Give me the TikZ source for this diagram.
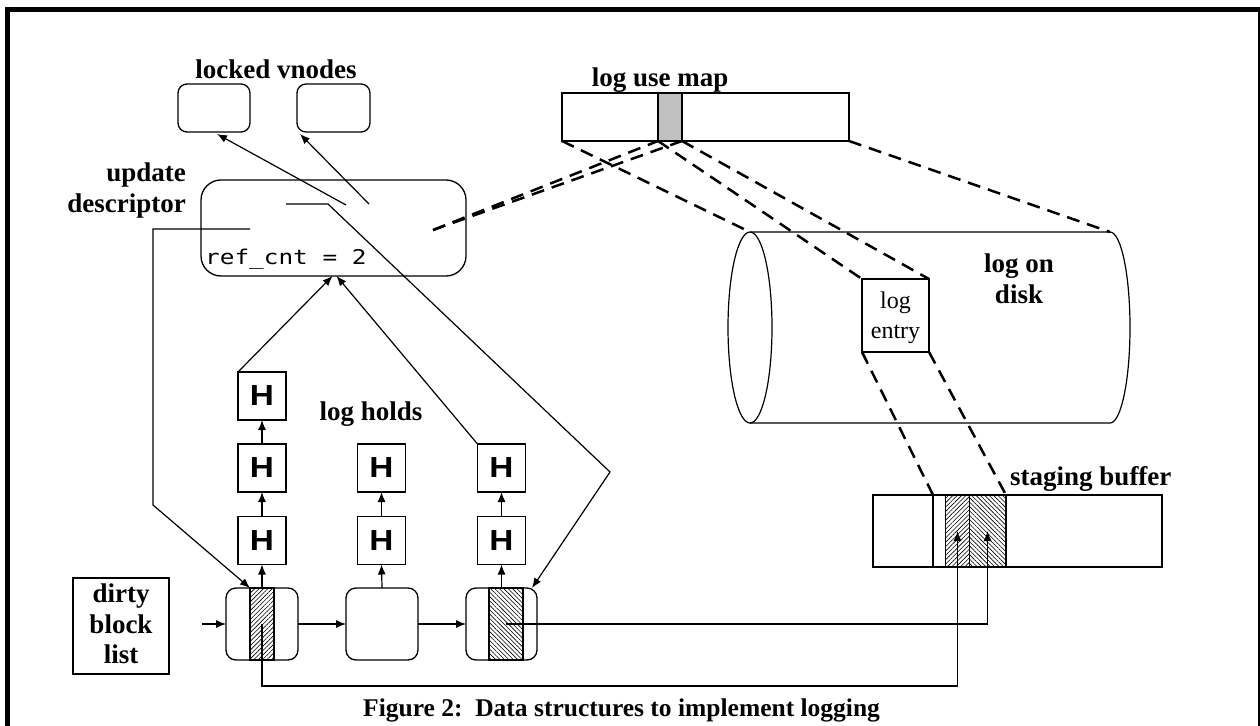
\documentclass[tikz,border=0pt]{standalone}
\usepackage{fontspec}
\setmainfont{Liberation Serif}
\newfontfamily\hfont[FakeStretch=1.15]{Liberation Sans}
\newfontfamily\codefont[FakeStretch=1.2]{DejaVu Sans Mono}
\usetikzlibrary{arrows.meta,patterns.meta}

\definecolor{mapgray}{HTML}{C0C0C0}

\tikzset{
  wire/.style={line width=1.2pt},
  arrowwire/.style={wire,-{Latex[length=10pt,width=8pt]}},
  dashwire/.style={line width=2.5pt,dash pattern=on 13pt off 8pt},
  vbox/.style={draw,line width=1.3pt,rounded corners=9pt,inner sep=0pt,outer sep=0pt},
  sqbox/.style={draw,line width=1.3pt,inner sep=0pt,outer sep=0pt},
  thickbox/.style={draw,line width=2.6pt,inner sep=0pt,outer sep=0pt},
  hbox/.style={sqbox,minimum width=48pt,minimum height=48pt,
    font=\hfont\bfseries\fontsize{29}{29}\selectfont},
  blockbox/.style={vbox,minimum width=72pt,minimum height=72pt,rounded corners=10pt},
  hatchNE/.style={pattern={Lines[angle=45,distance=3.1pt,line width=0.6pt]}},
  hatchNW/.style={pattern={Lines[angle=-45,distance=3.1pt,line width=0.6pt]}},
  label/.style={inner sep=0pt,font=\bfseries\fontsize{27}{30}\selectfont},
  plainlabel/.style={inner sep=0pt,font=\fontsize{24}{27}\selectfont},
}

\begin{document}
\begin{tikzpicture}[x=1pt,y=-1pt]
\useasboundingbox (0,0) rectangle (1260,725);
\clip (0,0) rectangle (1260,725);

% outer frame
\draw[line width=5pt] (7.5,735) -- (7.5,9.5) -- (1260.5,9.5) -- (1260.5,735);

% locked vnodes
\node[label,anchor=base] (lvtxt) at (276,78) {locked vnodes};
\node[vbox,minimum width=72pt,minimum height=48pt] (v1) at (214,108) {};
\node[vbox,minimum width=73pt,minimum height=48pt] (v2) at (333.5,108) {};

% update descriptor
\node[label,anchor=base east] (udt1) at (186,181) {update};
\node[label,anchor=base east] (udt2) at (186,212) {descriptor};
\node[vbox,rounded corners=20pt,minimum width=265pt,minimum height=96pt] (ud) at (333.5,228) {};
\node[inner sep=0pt,anchor=base west,font=\codefont\fontsize{20.3}{20}\selectfont] (refcnt) at (205,264) {ref\_cnt = 2};

% pointer stubs inside the descriptor
\coordinate (udA) at (250,229);
\coordinate (udB) at (286,204);
\coordinate (udC) at (346,205);
\coordinate (udD) at (369,204);
\coordinate (udE) at (433,230);

% log use map
\node[label,anchor=base] (lumtxt) at (660,86) {log use map};
\node[sqbox,minimum width=287pt,minimum height=48pt] (lum) at (705.5,117) {};
\node[sqbox,fill=mapgray,minimum width=24pt,minimum height=48pt] (slot) at (670,117) {};

% log on disk (cylinder)
\coordinate (cylTL) at (750,232);
\coordinate (cylTR) at (1110,232);
\draw[wire] (750,327.5) ellipse [x radius=22,y radius=95.5];
\draw[wire] (cylTL) -- (cylTR) arc[start angle=-90,end angle=90,x radius=20,y radius=95.5] -- (750,423);
\node[label,anchor=base] (lodt1) at (1019,272) {log on};
\node[label,anchor=base] (lodt2) at (1019,303) {disk};

% log entry
\node[thickbox,fill=white,minimum width=67pt,minimum height=73pt] (le) at (895.5,315.5) {};
\node[plainlabel,anchor=base] (let1) at (895.5,308) {log};
\node[plainlabel,anchor=base] (let2) at (895.5,338) {entry};

% staging buffer
\node[label,anchor=base west] (sbtxt) at (1010,485) {staging buffer};
\node[thickbox,minimum width=289pt,minimum height=72pt] (sb) at (1017.5,531) {};
\node[inner sep=0pt,outer sep=0pt,hatchNE,minimum width=23.5pt,minimum height=72pt] (sbL) at (957.5,531) {};
\node[inner sep=0pt,outer sep=0pt,hatchNW,minimum width=37pt,minimum height=72pt] (sbR) at (987.5,531) {};
\draw[wire] (sbL.north west) -- (sbL.south west);
\draw[wire] (sbL.north east) -- (sbL.south east);
\draw[line width=2.6pt] (933,495) -- (933,567);
\draw[line width=2.6pt] (1006,495) -- (1006,567);
\coordinate (sbA) at (933,495);
\coordinate (sbB) at (1006,495);
\draw[thickbox] (sb.north west) rectangle (sb.south east);

% dirty block list
\node[sqbox,minimum width=96pt,minimum height=96pt] (dbl) at (121,626) {};
\node[label,anchor=base] (dblt1) at (121,602) {dirty};
\node[label,anchor=base] (dblt2) at (121,633) {block};
\node[label,anchor=base] (dblt3) at (121,663) {list};

% buffered blocks
\node[blockbox] (b1) at (262,624) {};
\node[blockbox] (b2) at (382,624) {};
\node[blockbox,minimum width=71pt] (b3) at (501.5,624) {};
\node[inner sep=0pt,outer sep=0pt,draw,line width=1.2pt,hatchNE,minimum width=24pt,minimum height=72pt] (hb1) at (262,624) {};
\node[inner sep=0pt,outer sep=0pt,draw,line width=1.2pt,hatchNW,minimum width=34pt,minimum height=72pt] (hb3) at (506,624) {};
\coordinate (dblIn) at (202,624);

% log holds
\node[label,anchor=base] (lhtxt) at (371,420) {log holds};
\node[hbox] (h1a) at (262,540.5) {H};
\node[hbox] (h1b) at (262,468) {H};
\node[hbox] (h1c) at (262,396) {H};
\node[hbox] (h2a) at (381.5,540.5) {H};
\node[hbox] (h2b) at (381.5,468) {H};
\node[hbox] (h3a) at (501.5,540.5) {H};
\node[hbox] (h3b) at (501.5,468) {H};

% list links
\draw[arrowwire] (dblIn) -- (b1.west);
\draw[arrowwire] (b1.east) -- (b2.west);
\draw[arrowwire] (b2.east) -- (b3.west);

% hold chains
\draw[arrowwire] (b1.north) -- (h1a.south);
\draw[arrowwire] (h1a.north) -- (h1b.south);
\draw[arrowwire] (h1b.north) -- (h1c.south);
\draw[arrowwire] (b2.north) -- (h2a.south);
\draw[arrowwire] (h2a.north) -- (h2b.south);
\draw[arrowwire] (b3.north) -- (h3a.south);
\draw[arrowwire] (h3a.north) -- (h3b.south);

% holds point back to the descriptor
\draw[arrowwire] (h1c.north west) -- ([xshift=-1pt]ud.south);
\draw[arrowwire] (h3b.north west) -- ([xshift=3pt]ud.south);

% descriptor pointers
\draw[arrowwire] (udC) -- ([xshift=3pt,yshift=-2pt]v1.south);
\draw[arrowwire] (udD) -- ([xshift=3pt,yshift=-2pt]v2.south west);
\draw[arrowwire] (udA) -- (153,229) -- (153,505) -- (hb1.north west);
\draw[arrowwire] (udB) -- (328,204) -- (610,472) -- ([xshift=-5pt]b3.north east);

% blocks copied into the staging buffer
\draw[arrowwire] (hb1.center) -- ++(0,62) -| (sbL.center);
\draw[arrowwire] (hb3.center) -| (sbR.center);

% log space mapping
\draw[dashwire] (udE) -- (slot.south west);
\draw[dashwire] (udE) -- (slot.south east);
\draw[dashwire] (lum.south west) -- (cylTL);
\draw[dashwire] (slot.south west) -- (le.north west);
\draw[dashwire] (slot.south east) -- (le.north east);
\draw[dashwire] (lum.south east) -- (cylTR);
\draw[dashwire] (le.south west) -- (sbA);
\draw[dashwire] (le.south east) -- (sbB);

% caption
\node[inner sep=0pt,anchor=base west,font=\bfseries\fontsize{25.5}{28}\selectfont] (cap) at (363,716) {Figure 2:\ \ Data structures to implement logging};
\end{tikzpicture}
\end{document}
